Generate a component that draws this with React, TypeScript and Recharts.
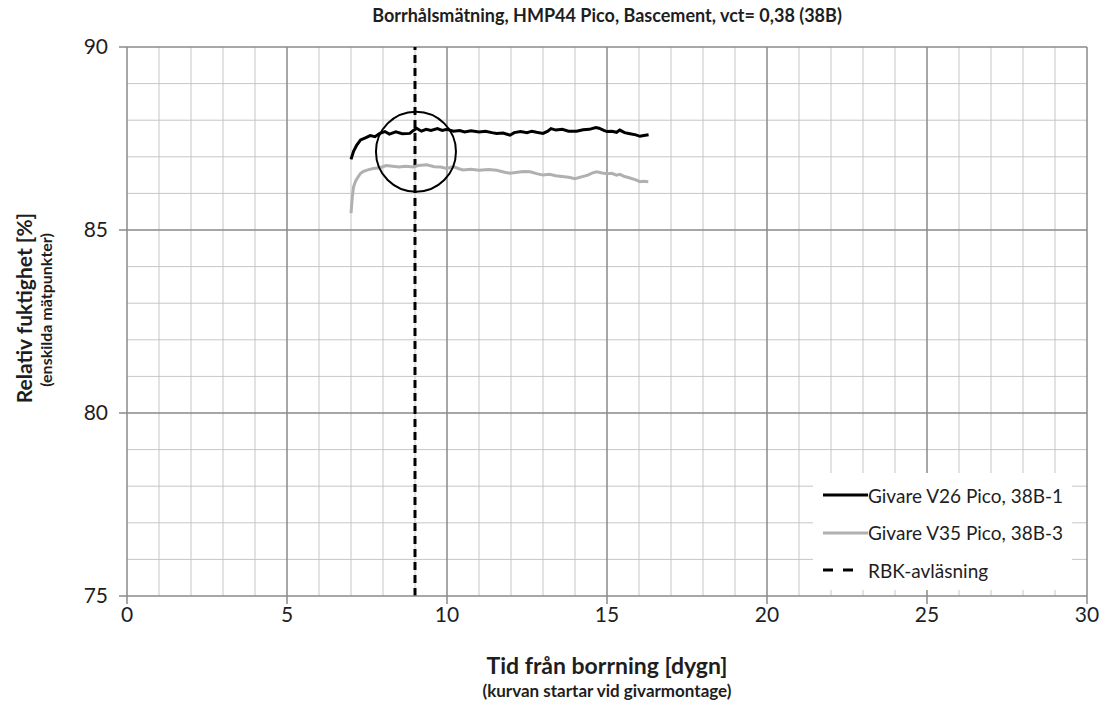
import React from "react";
import { LineChart, Line, XAxis, YAxis, ReferenceLine, ReferenceDot } from "recharts";

// tid från borrning [dygn] / relativ fuktighet [%]
const DAYS_V26 = [7.0, 7.08, 7.18, 7.3, 7.45, 7.6, 7.75, 7.9, 8.06, 8.2, 8.4, 8.6, 8.84, 8.95, 9.05, 9.2, 9.35, 9.5, 9.7, 9.85, 10.0, 10.2, 10.4, 10.55, 10.75, 11.0, 11.2, 11.4, 11.55, 11.75, 11.97, 12.1, 12.3, 12.5, 12.65, 12.8, 13.0, 13.15, 13.25, 13.4, 13.6, 13.8, 14.05, 14.25, 14.45, 14.65, 14.75, 14.9, 15.0, 15.15, 15.3, 15.4, 15.55, 15.72, 15.9, 16.03, 16.15, 16.3];
const RH_V26 = [86.93, 87.15, 87.32, 87.46, 87.52, 87.58, 87.55, 87.64, 87.69, 87.62, 87.68, 87.63, 87.64, 87.72, 87.78, 87.7, 87.75, 87.72, 87.77, 87.72, 87.75, 87.7, 87.72, 87.68, 87.71, 87.68, 87.7, 87.66, 87.64, 87.65, 87.59, 87.66, 87.69, 87.66, 87.7, 87.67, 87.64, 87.7, 87.77, 87.73, 87.75, 87.7, 87.7, 87.74, 87.75, 87.8, 87.78, 87.72, 87.69, 87.7, 87.67, 87.73, 87.66, 87.63, 87.6, 87.56, 87.58, 87.6];

const DAYS_V35 = [7.0, 7.04, 7.08, 7.15, 7.23, 7.3, 7.39, 7.55, 7.7, 7.9, 8.1, 8.3, 8.5, 8.7, 8.95, 9.1, 9.37, 9.6, 9.8, 9.99, 10.2, 10.35, 10.5, 10.75, 11.0, 11.3, 11.55, 11.8, 11.97, 12.2, 12.4, 12.6, 12.8, 13.0, 13.2, 13.4, 13.6, 13.8, 14.0, 14.2, 14.4, 14.55, 14.68, 14.85, 15.0, 15.15, 15.3, 15.4, 15.55, 15.72, 15.9, 16.03, 16.15, 16.29];
const RH_V35 = [85.46, 85.9, 86.18, 86.35, 86.46, 86.55, 86.6, 86.65, 86.68, 86.7, 86.76, 86.74, 86.72, 86.74, 86.72, 86.76, 86.78, 86.73, 86.72, 86.68, 86.73, 86.68, 86.64, 86.66, 86.63, 86.65, 86.63, 86.58, 86.55, 86.58, 86.6, 86.59, 86.54, 86.5, 86.52, 86.48, 86.46, 86.44, 86.4, 86.45, 86.5, 86.56, 86.59, 86.56, 86.54, 86.55, 86.5, 86.52, 86.46, 86.42, 86.37, 86.32, 86.33, 86.32];

const RBK_DAY = 9;
const CIRCLE_AT = { x: 9.03, y: 87.14 };

const X_TICKS = [0, 5, 10, 15, 20, 25, 30];
const Y_TICKS = [75, 80, 85, 90];
const X_MINOR = [1, 2, 3, 4, 6, 7, 8, 9, 11, 12, 13, 14, 16, 17, 18, 19, 21, 22, 23, 24, 26, 27, 28, 29];
const Y_MINOR = [76, 77, 78, 79, 81, 82, 83, 84, 86, 87, 88, 89];

const LEGEND = [
  { label: "Givare V26 Pico, 38B-1", color: "#000000", dashed: false },
  { label: "Givare V35 Pico, 38B-3", color: "#b0b0b0", dashed: false },
  { label: "RBK-avläsning", color: "#000000", dashed: true },
];

const v26 = DAYS_V26.map((d, i) => ({ day: d, rh: RH_V26[i] }));
const v35 = DAYS_V35.map((d, i) => ({ day: d, rh: RH_V35[i] }));

const FONT = "Lato, 'Open Sans', sans-serif";
const MAJOR = "#8a8a8a";
const MINOR = "#c6c6c6";
const TXT = "#1e1e1e";

export default function App() {
  return (
    <div style={{ position: "absolute", left: 0, top: 0, width: 1105, height: 706, background: "#fff", fontFamily: FONT }}>
      <div style={{ position: "absolute", left: 127, width: 960, top: 4, textAlign: "center", fontWeight: 700, fontSize: 18, color: TXT }}>
        Borrhålsmätning, HMP44 Pico, Bascement, vct= 0,38 (38B)
      </div>

      <LineChart width={1105} height={706} margin={{ top: 47, right: 18, bottom: 70, left: 0 }}>
        <XAxis
          dataKey="day"
          type="number"
          domain={[0, 30]}
          ticks={X_TICKS}
          allowDataOverflow
          height={40}
          tickSize={8}
          tickMargin={3}
          stroke={MAJOR}
          strokeWidth={1.5}
          tick={{ fill: TXT, fontSize: 21, fontFamily: FONT }}
        />
        <YAxis
          type="number"
          domain={[75, 90]}
          ticks={Y_TICKS}
          allowDataOverflow
          width={127}
          tickSize={8}
          tickMargin={11}
          stroke={MAJOR}
          strokeWidth={1.5}
          tick={{ fill: TXT, fontSize: 21, fontFamily: FONT }}
        />
        {X_MINOR.map((v) => (
          <ReferenceLine key={"xm" + v} x={v} stroke={MINOR} strokeWidth={1} />
        ))}
        {Y_MINOR.map((v) => (
          <ReferenceLine key={"ym" + v} y={v} stroke={MINOR} strokeWidth={1} />
        ))}
        {X_TICKS.slice(1).map((v) => (
          <ReferenceLine key={"xM" + v} x={v} stroke={MAJOR} strokeWidth={1.5} />
        ))}
        {Y_TICKS.slice(1).map((v) => (
          <ReferenceLine key={"yM" + v} y={v} stroke={MAJOR} strokeWidth={1.5} />
        ))}
        <ReferenceLine x={RBK_DAY} stroke="#000" strokeWidth={3} strokeDasharray="8 5" />
        <Line data={v35} dataKey="rh" stroke="#b0b0b0" strokeWidth={3} dot={false} isAnimationActive={false} />
        <Line data={v26} dataKey="rh" stroke="#000" strokeWidth={3} dot={false} isAnimationActive={false} />
        <ReferenceDot x={CIRCLE_AT.x} y={CIRCLE_AT.y} r={40} fill="none" stroke="#000" strokeWidth={2} />
      </LineChart>

      <div style={{ position: "absolute", left: 23, top: 308, transform: "translate(-50%, -50%) rotate(-90deg)", whiteSpace: "nowrap", fontWeight: 700, fontSize: 21, color: TXT }}>
        Relativ fuktighet [%]
      </div>
      <div style={{ position: "absolute", left: 45, top: 310, transform: "translate(-50%, -50%) rotate(-90deg)", whiteSpace: "nowrap", fontWeight: 700, fontSize: 16, color: TXT }}>
        (enskilda mätpunkter)
      </div>

      <div style={{ position: "absolute", left: 127, width: 960, top: 651, textAlign: "center", fontWeight: 700, fontSize: 23, color: TXT }}>
        Tid från borrning [dygn]
      </div>
      <div style={{ position: "absolute", left: 127, width: 960, top: 680, textAlign: "center", fontWeight: 700, fontSize: 17, color: TXT }}>
        (kurvan startar vid givarmontage)
      </div>

      <div style={{ position: "absolute", left: 813, top: 473, width: 259, height: 117, background: "#fff" }}>
        {LEGEND.map((item, i) => (
          <div key={item.label} style={{ position: "absolute", left: 10, top: 9 + i * 37.5, height: 26, display: "flex", alignItems: "center" }}>
            <svg width={45} height={6}>
              <line x1={0} y1={3} x2={item.dashed ? 32 : 45} y2={3} stroke={item.color} strokeWidth={3} strokeDasharray={item.dashed ? "10 10" : undefined} />
            </svg>
            <span style={{ fontSize: 19, color: TXT }}>{item.label}</span>
          </div>
        ))}
      </div>
    </div>
  );
}
